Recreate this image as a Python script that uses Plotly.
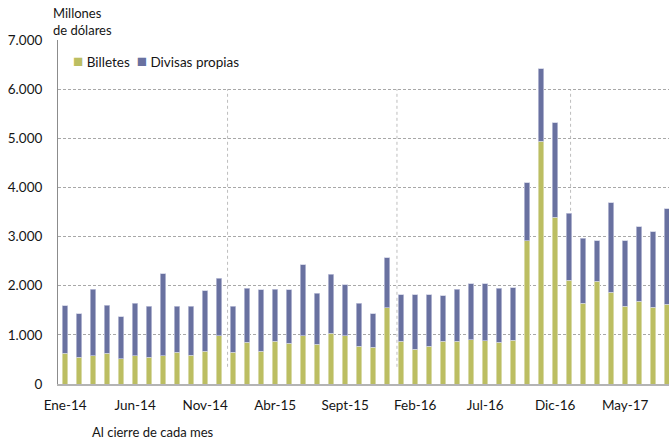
import plotly.graph_objects as go

meses = ["Ene-14", "Feb-14", "Mar-14", "Abr-14", "May-14", "Jun-14", "Jul-14", "Ago-14", "Sept-14", "Oct-14", "Nov-14", "Dic-14",
         "Ene-15", "Feb-15", "Mar-15", "Abr-15", "May-15", "Jun-15", "Jul-15", "Ago-15", "Sept-15", "Oct-15", "Nov-15", "Dic-15",
         "Ene-16", "Feb-16", "Mar-16", "Abr-16", "May-16", "Jun-16", "Jul-16", "Ago-16", "Sept-16", "Oct-16", "Nov-16", "Dic-16",
         "Ene-17", "Feb-17", "Mar-17", "Abr-17", "May-17", "Jun-17", "Jul-17", "Ago-17"]

billetes = [630, 540, 570, 625, 510, 570, 540, 570, 645, 585, 665, 980,
            645, 845, 665, 865, 830, 980, 810, 1035, 980, 770, 750, 1550,
            865, 705, 770, 865, 865, 905, 885, 845, 890, 2910, 4935, 3390,
            2110, 1640, 2090, 1870, 1580, 1680, 1560, 1620]

divisas = [960, 890, 1355, 980, 855, 1075, 1045, 1670, 940, 1000, 1235, 1170,
           940, 1105, 1255, 1065, 1090, 1450, 1035, 1195, 1035, 875, 680, 1015,
           950, 1110, 1045, 930, 1065, 1130, 1150, 1105, 1065, 1185, 1480, 1930,
           1360, 1325, 820, 1820, 1340, 1515, 1540, 1945]

tick_labels = ["Ene-14", "Jun-14", "Nov-14", "Abr-15", "Sept-15", "Feb-16", "Jul-16", "Dic-16", "May-17"]
y_ticks = [0, 1000, 2000, 3000, 4000, 5000, 6000, 7000]
y_tick_text = ["0", "1.000", "2.000", "3.000", "4.000", "5.000", "6.000", "7.000"]
separadores = [11.6, 23.7, 36.1]

GREEN = "#BCBE62"
BLUE = "#6971A0"
FONT = "Lato"
TXT = "#151515"

fig = go.Figure()
fig.add_trace(go.Bar(x=meses, y=billetes, name="Billetes", marker=dict(color=GREEN, line=dict(color="#E4E5C4", width=0.7)), width=0.4))
fig.add_trace(go.Bar(x=meses, y=divisas, name="Divisas propias", marker=dict(color=BLUE, line=dict(color="#C9CCE0", width=0.7)), width=0.4))

for s in separadores:
    fig.add_shape(type="line", xref="x", yref="y", x0=s, x1=s, y0=350, y1=6000,
                  line=dict(color="#BDBDBD", width=1, dash="dot"), layer="below")

fig.update_layout(
    barmode="stack",
    width=669, height=443,
    margin=dict(l=58, r=0, t=40, b=59),
    plot_bgcolor="white", paper_bgcolor="white",
    font=dict(family=FONT, size=13, color=TXT),
    showlegend=False,
    bargap=0.6,
)
fig.update_xaxes(
    type="category", range=[-0.51, 43.13],
    tickmode="array", tickvals=tick_labels, ticktext=tick_labels,
    showgrid=False, showline=True, linecolor="#B4B4B4", linewidth=2,
    ticks="", tickfont=dict(size=13.5, family=FONT, color=TXT), ticklabelstandoff=8,
)
fig.update_yaxes(
    range=[0, 7000], tickmode="array", tickvals=y_ticks, ticktext=y_tick_text,
    showgrid=True, gridcolor="#A8A8A8", griddash="3px,2px", gridwidth=1,
    showline=True, linecolor="#8C8C8C", linewidth=1, zeroline=False,
    ticks="", tickfont=dict(size=13.5, family=FONT, color=TXT), ticklabelstandoff=12,
)
fig.add_annotation(text="Millones<br>de dólares", xref="paper", yref="paper", x=-0.012, y=1.0,
                   xanchor="left", yanchor="bottom", showarrow=False, align="left",
                   font=dict(size=13, family=FONT, color=TXT))
fig.add_annotation(text="Al cierre de cada mes", xref="paper", yref="paper", x=0.052, y=-0.11,
                   xanchor="left", yanchor="top", showarrow=False,
                   font=dict(size=13, family=FONT, color=TXT))
legend_text = (f"<span style='color:{GREEN};font-size:17px'>■</span> Billetes  "
               f"<span style='color:{BLUE};font-size:17px'>■</span> Divisas propias")
fig.add_annotation(text=legend_text, xref="paper", yref="paper", x=0.022, y=0.939,
                   xanchor="left", yanchor="middle", showarrow=False,
                   font=dict(size=13.5, family=FONT, color=TXT))

fig.write_html("out.html", config={"displayModeBar": False},
               post_script="document.body.style.margin='0';document.body.style.padding='0';")
